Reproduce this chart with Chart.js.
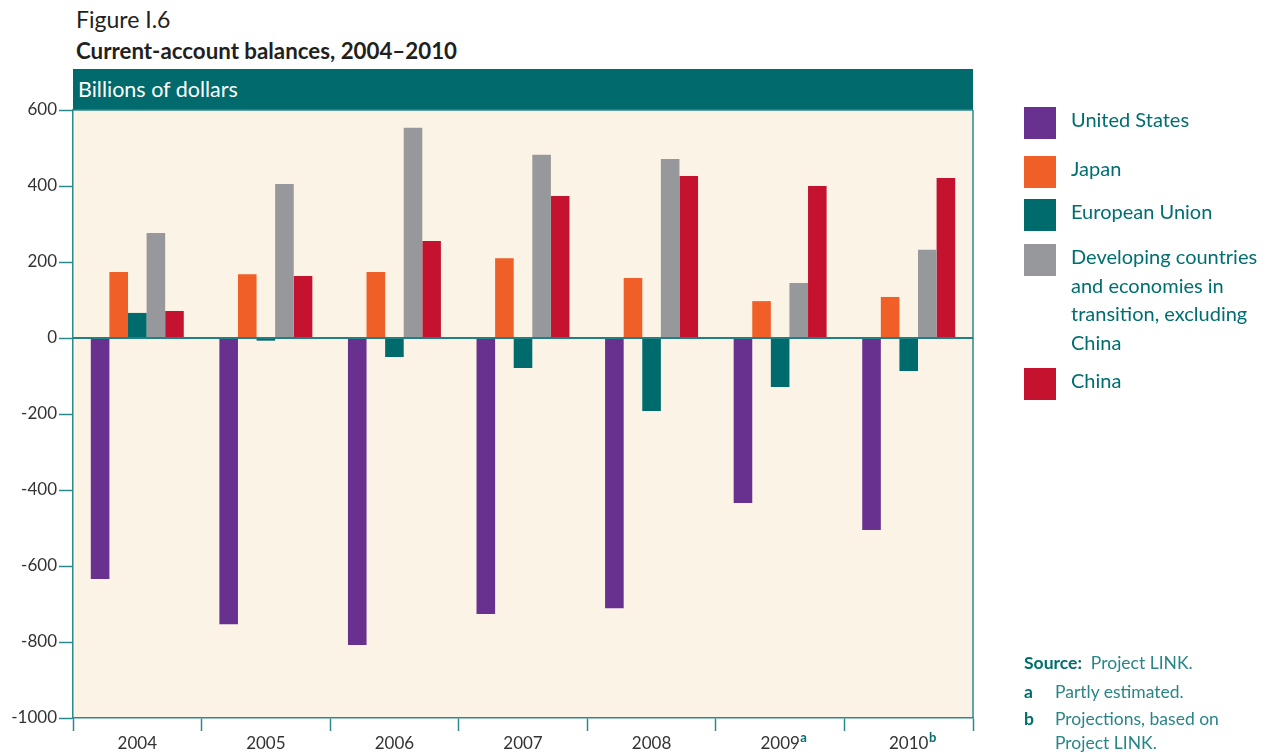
<!DOCTYPE html>
<html>
<head>
<meta charset="utf-8">
<script src="https://cdn.jsdelivr.net/npm/chart.js@4.4.1/dist/chart.umd.min.js"></script>
<style>
  html, body { margin: 0; padding: 0; background: #ffffff; }
  body { width: 1273px; height: 753px; position: relative; overflow: hidden; font-family: Lato, "Open Sans", sans-serif; }
  #wrap { position: absolute; left: 0; top: 0; width: 1273px; height: 753px; }
  .fig { position: absolute; left: 76px; top: 5px; font-size: 23px; color: #231f20; }
  .ttl { position: absolute; left: 76px; top: 37px; font-size: 22.3px; font-weight: bold; color: #231f20; }
  .band { position: absolute; left: 73px; top: 69px; width: 900px; height: 41px; background: #006a6c; }
  .band span { position: absolute; left: 5px; top: 7px; color: #ffffff; font-size: 21.5px; }
  #legend { position: absolute; left: 1024px; top: 0; }
  .li { position: absolute; left: 0; width: 250px; }
  .sw { position: absolute; left: 0; top: 0; width: 32px; height: 32px; }
  .lt { position: absolute; left: 47px; top: 0; color: #006e70; font-size: 20px; line-height: 28.7px; width: 210px; }
  .notes { position: absolute; left: 1024px; top: 652px; color: #2a8587; font-size: 17.5px; }
  .notes div { position: absolute; white-space: nowrap; }
  .notes b { color: #006e70; }
</style>
</head>
<body>
<div class="fig">Figure I.6</div>
<div class="ttl">Current-account balances, 2004–2010</div>
<div class="band"><span>Billions of dollars</span></div>
<div id="wrap"><canvas id="c" width="1273" height="753"></canvas></div>
<div id="legend"></div>
<div class="notes">
  <div style="left:0;top:0;"><b>Source:</b>&nbsp; Project LINK.</div>
  <div style="left:0;top:29px;"><b>a</b></div>
  <div style="left:31px;top:29px;">Partly estimated.</div>
  <div style="left:0;top:56px;"><b>b</b></div>
  <div style="left:31px;top:56px;">Projections, based on</div>
  <div style="left:31px;top:80px;">Project LINK.</div>
</div>
<script>
const categories = ['2004', '2005', '2006', '2007', '2008', '2009', '2010'];
const footnoteMarks = ['', '', '', '', '', 'a', 'b'];
const seriesNames = ['United States', 'Japan', 'European Union', 'Developing countries and economies in transition, excluding China', 'China'];
const seriesColors = ['#68308f', '#f05f28', '#006b6d', '#97989c', '#c4122f'];
const unitedStates = [-634, -753, -808, -726, -711, -434, -505];
const japan = [174, 168, 174, 210, 158, 97, 108];
const europeanUnion = [66, -7, -50, -79, -192, -129, -87];
const developingExChina = [276, 405, 553, 482, 471, 145, 232];
const china = [71, 163, 255, 374, 426, 400, 421];
const yTicks = [600, 400, 200, 0, -200, -400, -600, -800, -1000];

const teal = '#2a8a8c';
const seriesData = [unitedStates, japan, europeanUnion, developingExChina, china];

// HTML legend
const legendTops = [107, 156, 199, 244, 368];
const legendLabels = ['United States', 'Japan', 'European Union', 'Developing countries<br>and economies in<br>transition, excluding<br>China', 'China'];
const leg = document.getElementById('legend');
seriesNames.forEach((n, i) => {
  const d = document.createElement('div');
  d.className = 'li';
  d.style.top = legendTops[i] + 'px';
  d.innerHTML = '<div class="sw" style="background:' + seriesColors[i] + '"></div><div class="lt" style="top:-2px">' + legendLabels[i] + '</div>';
  leg.appendChild(d);
});

const plotDecor = {
  id: 'plotDecor',
  beforeDraw(chart) {
    const a = chart.chartArea, ctx = chart.ctx;
    ctx.save();
    ctx.fillStyle = '#fbf3e6';
    ctx.fillRect(a.left, a.top, a.right - a.left, a.bottom - a.top);
    ctx.restore();
  },
  afterDraw(chart) {
    const a = chart.chartArea, ctx = chart.ctx;
    ctx.save();
    ctx.strokeStyle = teal;
    ctx.lineWidth = 1.5;
    ctx.beginPath();
    ctx.moveTo(a.right, a.top);
    ctx.lineTo(a.right, a.bottom);
    ctx.moveTo(a.left, a.top);
    ctx.lineTo(a.right, a.top);
    ctx.stroke();
    const y0 = chart.scales.y.getPixelForValue(0);
    ctx.strokeStyle = '#1f8184';
    ctx.lineWidth = 2;
    ctx.beginPath();
    ctx.moveTo(a.left, y0);
    ctx.lineTo(a.right, y0);
    ctx.stroke();
    const xs = chart.scales.x;
    footnoteMarks.forEach((m, i) => {
      if (!m) return;
      ctx.font = '17px Lato, sans-serif';
      const w = ctx.measureText(categories[i]).width;
      const x = xs.getPixelForTick(i) + w / 2 + 0.5;
      ctx.font = 'bold 13px Lato, sans-serif';
      ctx.fillStyle = '#006e70';
      ctx.textAlign = 'left';
      ctx.textBaseline = 'alphabetic';
      ctx.fillText(m, x, a.bottom + 24);
    });
    ctx.restore();
  }
};

new Chart(document.getElementById('c'), {
  type: 'bar',
  data: {
    labels: categories,
    datasets: seriesNames.map((n, i) => ({
      label: n,
      data: seriesData[i],
      backgroundColor: seriesColors[i],
      borderWidth: 0,
      categoryPercentage: 0.723,
      barPercentage: 1.0
    }))
  },
  options: {
    responsive: false,
    animation: false,
    devicePixelRatio: 1,
    layout: { padding: { left: 0, top: 110, right: 300, bottom: 0 } },
    plugins: { legend: { display: false }, tooltip: { enabled: false }, title: { display: false } },
    scales: {
      x: {
        offset: true,
        afterFit(s) { s.height = 35; },
        grid: { offset: true, drawOnChartArea: false, tickLength: 13, tickColor: teal, tickWidth: 1.5 },
        border: { display: true, color: teal, width: 1.5 },
        ticks: { color: '#333333', font: { family: 'Lato', size: 17 }, padding: 2, maxRotation: 0 }
      },
      y: {
        min: -1000, max: 600,
        afterFit(s) { s.width = 73; },
        afterBuildTicks(s) { s.ticks = yTicks.map(v => ({ value: v })); },
        grid: { drawOnChartArea: false, tickLength: 14, tickColor: teal, tickWidth: 1.5 },
        border: { display: true, color: teal, width: 1.5 },
        ticks: { color: '#333333', font: { family: 'Lato', size: 17 }, padding: 2, callback: v => String(v) }
      }
    }
  },
  plugins: [plotDecor]
});
</script>
</body>
</html>
